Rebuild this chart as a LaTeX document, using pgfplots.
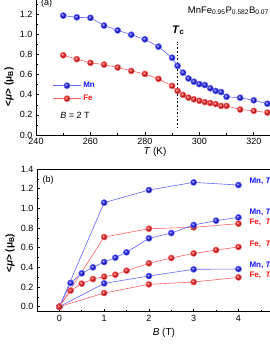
\documentclass[border=0pt]{standalone}
\usepackage{pgfplots}
\pgfplotsset{compat=1.18}
\usepackage{fontspec}
\setmainfont{Liberation Sans}
\definecolor{mnline}{RGB}{100,100,255}
\definecolor{feline}{RGB}{255,100,100}
\definecolor{mnball}{RGB}{20,20,255}
\definecolor{feball}{RGB}{255,20,20}
\begin{document}
\begin{tikzpicture}
\pgfplotsset{
  every axis/.append style={
    scale only axis,
    font=\fontsize{9}{10}\selectfont,
    tick align=inside,
    xtick pos=bottom, ytick pos=left,
    axis line style={line width=0.8pt},
    every tick/.style={black,line width=0.6pt},
    major tick length=3pt, minor tick length=1.8pt,
    /pgf/number format/assume math mode=true,
    yticklabel style={/pgf/number format/fixed,/pgf/number format/fixed zerofill,/pgf/number format/precision=1},
    clip=false,
  },
  mnstyle/.style={color=mnline, line width=0.6pt, mark=ball, mark size=3pt, mark options={ball color=mnball}},
  festyle/.style={color=feline, line width=0.6pt, mark=ball, mark size=3pt, mark options={ball color=feball}},
}
% ---------- panel (a)
\begin{axis}[at={(36pt,210pt)}, anchor=south west, width=245pt, height=135.8pt,
  xmin=240, xmax=330, ymin=0, ymax=1.35,
  xtick={240,260,...,320}, minor xtick={250,270,...,330},
  ytick={0,0.2,...,1.21}, minor ytick={0.1,0.3,...,1.31},
  xticklabel style={/pgf/number format/fixed, /pgf/number format/precision=0},
  xlabel={\fontsize{10}{12}\selectfont\textit{T} (K)},
  xlabel style={at={(axis description cs:0.486,-0.125)}, anchor=center},
  ylabel={\fontsize{10}{12}\selectfont\bfseries <\textit{μ}> (μ\textsubscript{B})},
  ylabel style={at={(axis description cs:-0.11,0.353)}, anchor=center},
  legend style={draw=none, fill=none, at={(rel axis cs:0.055,0.42)}, anchor=north west,
    font=\bfseries\fontsize{8}{9}\selectfont, row sep=2pt},
  legend cell align=left,
  legend image code/.code={\draw[mark repeat=2,mark phase=2] plot coordinates {(0pt,0pt) (14pt,0pt) (28pt,0pt)};},
]
\addplot[mnstyle] coordinates {
(250,1.187)(255,1.170)(260,1.165)(265,1.088)(270,1.040)(275,0.997)(280,0.951)(285,0.878)
(290,0.768)(292,0.688)(294,0.620)(296,0.562)(298,0.530)(300,0.506)(302,0.497)(304,0.465)
(306,0.438)(308,0.427)(310,0.380)(315,0.370)(320,0.345)(325,0.311)};
\addlegendentry{\textcolor{mnball}{Mn}}
\addplot[festyle] coordinates {
(250,0.793)(255,0.754)(260,0.717)(265,0.700)(270,0.671)(275,0.637)(280,0.607)(285,0.558)
(290,0.488)(292,0.438)(294,0.399)(296,0.371)(298,0.355)(300,0.340)(302,0.327)(304,0.318)
(306,0.308)(308,0.289)(310,0.289)(315,0.253)(320,0.240)(325,0.223)};
\addlegendentry{\textcolor{feball}{Fe}}
\addplot[black, line width=1.6pt, dotted, forget plot] coordinates {(292,0.067)(292,0.927)};
\node[font=\fontsize{11}{12}\selectfont\bfseries] at (axis cs:292.3,1.04) {\textit{T}\textsubscript{c}};
\node[anchor=center, font=\fontsize{9}{10}\selectfont] at (axis cs:254.3,0.2) {\textit{B} = 2 T};
\node[anchor=west, font=\fontsize{9.5}{10}\selectfont] at (axis cs:294.5,1.235) {MnFe\textsubscript{0.95}P\textsubscript{0.582}B\textsubscript{0.07}};
\node[anchor=north, font=\fontsize{9}{10}\selectfont, inner sep=0pt] at (rel axis cs:0.043,1.0) {(a)};
\end{axis}
% ---------- panel (b)
\begin{axis}[at={(37pt,33.4pt)}, anchor=south west, width=235pt, height=142.6pt,
  xmin=-0.5, xmax=4.75, ymin=-0.05, ymax=1.4,
  xtick={0,1,2,3,4}, minor xtick={-0.5,0.5,1.5,2.5,3.5,4.5},
  ytick={0,0.2,...,1.41}, minor ytick={0.1,0.3,...,1.31},
  xticklabel style={/pgf/number format/fixed, /pgf/number format/precision=0},
  xlabel={\fontsize{10}{12}\selectfont\textit{B} (T)},
  xlabel style={at={(axis description cs:0.54,-0.151)}, anchor=center},
  ylabel={\fontsize{10}{12}\selectfont\bfseries <\textit{μ}> (μ\textsubscript{B})},
  ylabel style={at={(axis description cs:-0.115,0.41)}, anchor=center},
]
\addplot[mnstyle] coordinates {(0,0)(1,1.058)(2,1.186)(3,1.264)(4,1.237)};
\addplot[festyle] coordinates {(0,0)(1,0.708)(2,0.793)(3,0.807)(4,0.844)};
\addplot[mnstyle] coordinates {(0,0)(0.25,0.241)(0.5,0.339)(0.75,0.400)(1,0.454)(1.25,0.498)(1.5,0.553)(2,0.695)(2.5,0.749)(3,0.831)(3.5,0.875)(4,0.908)};
\addplot[festyle] coordinates {(0,0)(0.25,0.163)(0.5,0.234)(0.75,0.281)(1,0.305)(1.25,0.325)(1.5,0.366)(2,0.441)(2.5,0.495)(3,0.542)(3.5,0.576)(4,0.607)};
\addplot[mnstyle] coordinates {(0,0)(1,0.237)(2,0.312)(3,0.380)(4,0.383)};
\addplot[festyle] coordinates {(0,0)(1,0.139)(2,0.227)(3,0.251)(4,0.298)};
\node[anchor=center, font=\fontsize{9}{10}\selectfont] at (rel axis cs:0.047,0.923) {(b)};
\begin{scope}[font=\bfseries\fontsize{8}{9}\selectfont]
\node[anchor=west, text=mnball] at (axis cs:4.17,1.27) {Mn, \textit{T}};
\node[anchor=west, text=mnball] at (axis cs:4.17,0.955) {Mn, \textit{T}};
\node[anchor=west, text=feball] at (axis cs:4.17,0.854) {Fe,\ \ \textit{T}};
\node[anchor=west, text=feball] at (axis cs:4.17,0.634) {Fe,\ \ \textit{T}};
\node[anchor=west, text=mnball] at (axis cs:4.17,0.424) {Mn, \textit{T}};
\node[anchor=west, text=feball] at (axis cs:4.17,0.315) {Fe,\ \ \textit{T}};
\end{scope}
\end{axis}
\pgfresetboundingbox
\useasboundingbox (0pt,0pt) rectangle (269pt,345pt);
\end{tikzpicture}
\end{document}
